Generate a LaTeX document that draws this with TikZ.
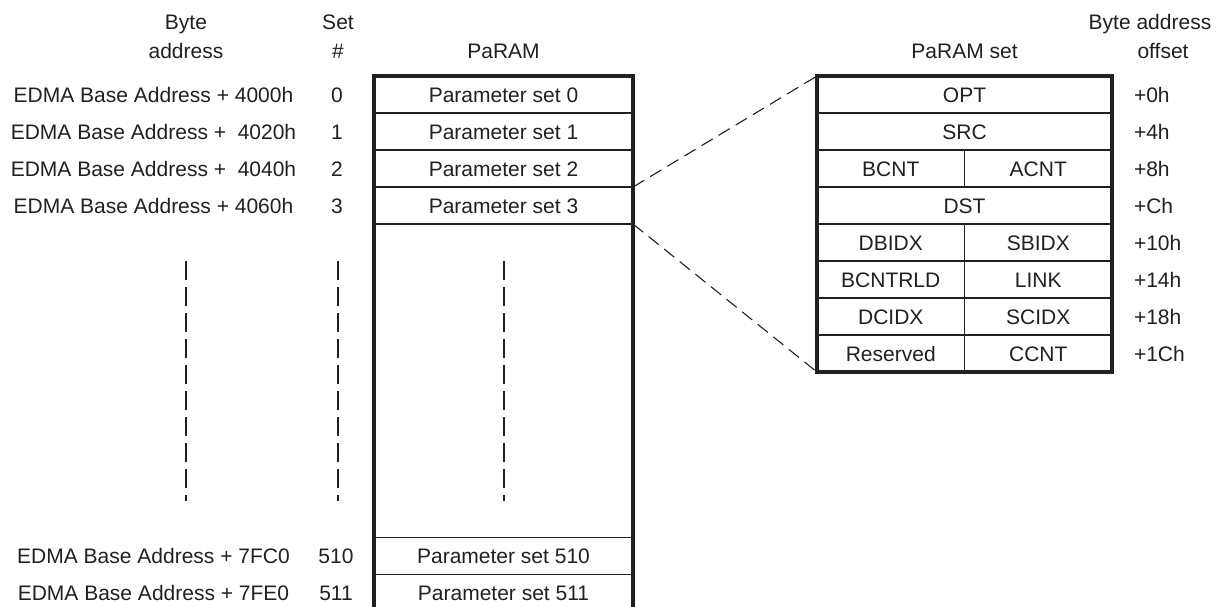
\documentclass[tikz,border=0pt]{standalone}
\usepackage{fontspec}
\setmainfont{Liberation Sans}
\definecolor{ink}{HTML}{231F20}
\tikzset{
  txt/.style={font=\fontsize{21}{29}\selectfont, text=ink, inner sep=0pt, outer sep=0pt},
  rowtxt/.style={txt, text height=15pt, text depth=0pt},
  cell/.style={rowtxt, draw=ink, line width=1.3pt, minimum height=37pt},
  wide/.style={cell, minimum width=259pt},
  rwide/.style={cell, minimum width=295pt},
  rhalf/.style={cell, minimum width=147.5pt},
  frame/.style={draw=ink, line width=3.4pt, line join=miter},
  guide/.style={draw=ink, line width=1.1pt, dash pattern=on 19pt off 7pt},
  zoomline/.style={draw=ink, line width=1.1pt, dash pattern=on 13pt off 7pt},
}
\begin{document}
\begin{tikzpicture}[x=1pt,y=-1pt]
\path[use as bounding box, clip] (0,0) rectangle (1217,606);
% headers
\node[txt, align=center] (hbyte) at (186,36.5) {Byte\\address};
\node[txt, align=center] (hset) at (338,36.5) {Set\\\#};
\node[txt, anchor=base] (hparam) at (503.5,58.5) {PaRAM};
\node[txt, anchor=base] (hpset) at (964.5,58.5) {PaRAM set};
\node[txt, anchor=base] (hoffa) at (1150,29.5) {Byte address};
\node[txt, anchor=base] (hoffb) at (1163,58.5) {offset};
% left labels
\node[rowtxt] (a0) at (153.5,94.5) {EDMA Base Address + 4000h};
\node[rowtxt] (a1) at (153.5,131.5) {EDMA Base Address +\ \ 4020h};
\node[rowtxt] (a2) at (153.5,168.5) {EDMA Base Address +\ \ 4040h};
\node[rowtxt] (a3) at (153.5,205.5) {EDMA Base Address + 4060h};
\node[rowtxt] (a510) at (153.5,556) {EDMA Base Address + 7FC0};
\node[rowtxt] (a511) at (153.5,593) {EDMA Base Address + 7FE0};
\node[rowtxt] (s0) at (337,94.5) {0};
\node[rowtxt] (s1) at (337,131.5) {1};
\node[rowtxt] (s2) at (337,168.5) {2};
\node[rowtxt] (s3) at (337,205.5) {3};
\node[rowtxt] (s510) at (336,556) {510};
\node[rowtxt] (s511) at (336,593) {511};
% PaRAM column
\node[wide] (p0) at (503.5,94.5) {Parameter set 0};
\node[wide] (p1) at (503.5,131.5) {Parameter set 1};
\node[wide] (p2) at (503.5,168.5) {Parameter set 2};
\node[wide] (p3) at (503.5,205.5) {Parameter set 3};
\node[cell, minimum width=259pt, minimum height=313.5pt] (pgap) at (503.5,380.75) {};
\node[wide] (p510) at (503.5,556) {Parameter set 510};
\node[wide] (p511) at (503.5,593) {Parameter set 511};
\draw[frame] (p0.north west) rectangle (p511.south east);
% guides
\coordinate (g1a) at (186,261); \coordinate (g1b) at (186,501);
\coordinate (g2a) at (338,261); \coordinate (g2b) at (338,501);
\coordinate (g3a) at (504,261); \coordinate (g3b) at (504,501);
\draw[guide] (g1a) -- (g1b);
\draw[guide] (g2a) -- (g2b);
\draw[guide] (g3a) -- (g3b);
% PaRAM set
\node[rwide] (opt) at (964.5,94.5) {OPT};
\node[rwide] (src) at (964.5,131.5) {SRC};
\node[rhalf] (bcnt) at (890.75,168.5) {BCNT};
\node[rhalf] (acnt) at (1038.25,168.5) {ACNT};
\node[rwide] (dst) at (964.5,205.5) {DST};
\node[rhalf] (dbidx) at (890.75,242.5) {DBIDX};
\node[rhalf] (sbidx) at (1038.25,242.5) {SBIDX};
\node[rhalf] (bcntrld) at (890.75,279.5) {BCNTRLD};
\node[rhalf] (link) at (1038.25,279.5) {LINK};
\node[rhalf] (dcidx) at (890.75,316.5) {DCIDX};
\node[rhalf] (scidx) at (1038.25,316.5) {SCIDX};
\node[rhalf] (rsv) at (890.75,353.5) {Reserved};
\node[rhalf] (ccnt) at (1038.25,353.5) {CCNT};
\draw[frame] (opt.north west) rectangle (ccnt.south east);
% offsets
\node[rowtxt, anchor=west] (o0) at (1134,94.5) {+0h};
\node[rowtxt, anchor=west] (o1) at (1134,131.5) {+4h};
\node[rowtxt, anchor=west] (o2) at (1134,168.5) {+8h};
\node[rowtxt, anchor=west] (o3) at (1134,205.5) {+Ch};
\node[rowtxt, anchor=west] (o4) at (1134,242.5) {+10h};
\node[rowtxt, anchor=west] (o5) at (1134,279.5) {+14h};
\node[rowtxt, anchor=west] (o6) at (1134,316.5) {+18h};
\node[rowtxt, anchor=west] (o7) at (1134,353.5) {+1Ch};
% zoom connectors
\draw[zoomline] (p2.south east) -- (opt.north west);
\draw[zoomline] (p3.south east) -- (rsv.south west);
\end{tikzpicture}
\end{document}
